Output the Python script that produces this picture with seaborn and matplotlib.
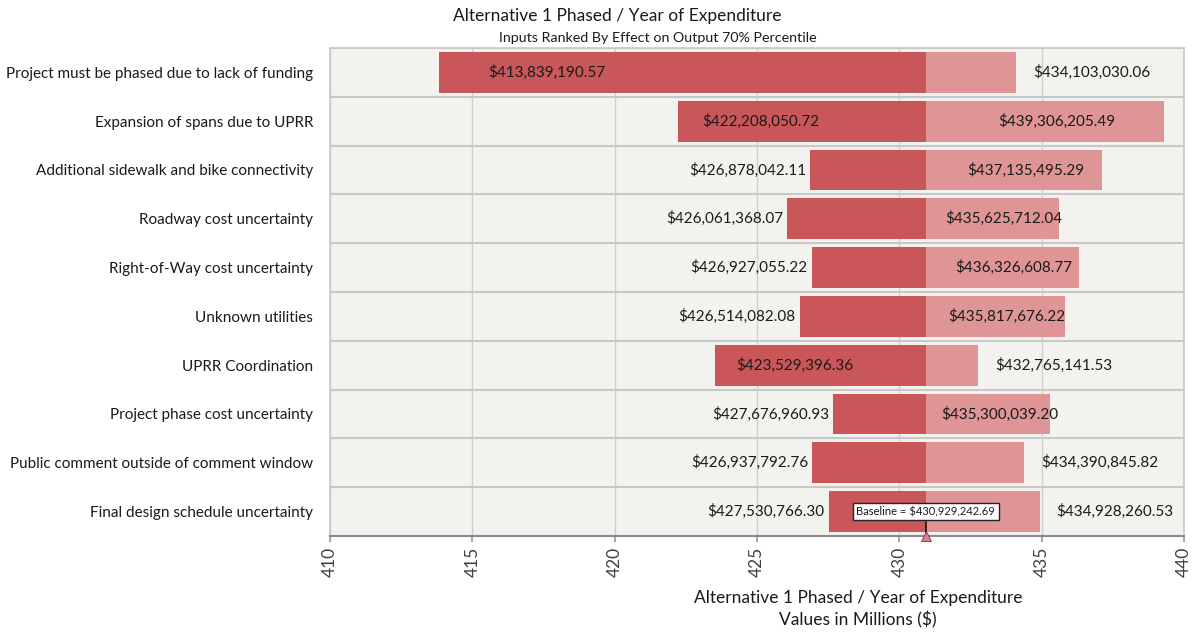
import numpy as np
import pandas as pd
import seaborn as sns
import matplotlib
matplotlib.use("Agg")
import matplotlib.pyplot as plt

categories = [
    "Project must be phased due to lack of funding",
    "Expansion of spans due to UPRR",
    "Additional sidewalk and bike connectivity",
    "Roadway cost uncertainty",
    "Right-of-Way cost uncertainty",
    "Unknown utilities",
    "UPRR Coordination",
    "Project phase cost uncertainty",
    "Public comment outside of comment window",
    "Final design schedule uncertainty",
]
low_values = [413839190.57, 422208050.72, 426878042.11, 426061368.07, 426927055.22,
              426514082.08, 423529396.36, 427676960.93, 426937792.76, 427530766.30]
high_values = [434103030.06, 439306205.49, 437135495.29, 435625712.04, 436326608.77,
               435817676.22, 432765141.53, 435300039.20, 434390845.82, 434928260.53]
baseline = 430929242.69
x_ticks = [410, 415, 420, 425, 430, 435, 440]

title = "Alternative 1 Phased / Year of Expenditure"
subtitle = "Inputs Ranked By Effect on Output 70% Percentile"
xlabel_lines = ["Alternative 1 Phased / Year of Expenditure", "Values in Millions ($)"]

sns.set_theme(style="white")
plt.rcParams["font.family"] = ["Lato", "DejaVu Sans"]

B = baseline / 1e6
low_m = np.array(low_values) / 1e6
high_m = np.array(high_values) / 1e6

df = pd.DataFrame({
    "cat": categories,
    "low": low_m - B,
    "high": high_m - B,
})

fig = plt.figure(figsize=(11.96, 6.34), dpi=100)
ax = fig.add_axes([330 / 1196, 1 - 536 / 634, (1184 - 330) / 1196, (536 - 48) / 634])
ax.set_facecolor("#f3f2ee")

LEFT_C = "#c95659"
RIGHT_C = "#df9496"
sns.barplot(data=df, x="low", y="cat", color=LEFT_C, saturation=1, width=0.84, ax=ax,
            zorder=2, linewidth=0, edgecolor="none")
sns.barplot(data=df, x="high", y="cat", color=RIGHT_C, saturation=1, width=0.84, ax=ax,
            zorder=2, linewidth=0, edgecolor="none")

ax.set_xlim(x_ticks[0] - B, x_ticks[-1] - B)
ax.set_ylim(len(categories) - 0.5, -0.5)
ax.set_xticks([t - B for t in x_ticks])
ax.set_xticklabels([str(t) for t in x_ticks], rotation=90, fontsize=12.5, color="#404040")
ax.tick_params(axis="x", length=4, color="#9a9a9a", pad=4, bottom=True)
ax.tick_params(axis="y", length=0, pad=12, labelsize=11, labelcolor="#1a1a1a")
ax.set_xlabel("")
ax.set_ylabel("")

# vertical grid
for t in x_ticks:
    ax.axvline(t - B, color="#cfcfcf", lw=1, zorder=1)
# row separators
for i in range(len(categories) + 1):
    ax.axhline(i - 0.5, color="#c8c8c8", lw=1.5, zorder=1)

for sp in ["top", "right", "left"]:
    ax.spines[sp].set_color("#c8c8c8")
    ax.spines[sp].set_linewidth(1.2)
ax.spines["bottom"].set_color("#8a8a8a")
ax.spines["bottom"].set_linewidth(1.5)

label_w = 4.3  # approx width of a value label in data units
fs = 11
for i, (lo, hi) in enumerate(zip(low_m, high_m)):
    dlo = lo - B
    dhi = hi - B
    # left labels
    if -dlo > label_w + 0.6:
        ax.text(dlo + min(2.0, 0.1 * (-dlo)), i, f"${low_values[i]:,.2f}", ha="left", va="center",
                fontsize=fs, color="#1a1a1a", zorder=4)
    else:
        ax.text(dlo - 0.15, i, f"${low_values[i]:,.2f}", ha="right", va="center",
                fontsize=fs, color="#1a1a1a", zorder=4)
    # right labels
    if dhi > label_w - 0.3 and i != len(categories) - 1:
        ax.text(dhi / 2 + 0.4, i, f"${high_values[i]:,.2f}", ha="center", va="center",
                fontsize=fs, color="#1a1a1a", zorder=4)
    else:
        ax.text(dhi + 0.6, i, f"${high_values[i]:,.2f}", ha="left", va="center",
                fontsize=fs, color="#1a1a1a", zorder=4)

# baseline marker
last = len(categories) - 1
ax.text(0, last, f"Baseline = ${baseline:,.2f}", ha="center", va="center", fontsize=8,
        color="#1a1a1a", zorder=6,
        bbox=dict(boxstyle="square,pad=0.3", fc="white", ec="#222222", lw=1))
ax.plot([0, 0], [last + 0.22, last + 0.5], color="#1a1a1a", lw=1.3, zorder=5)
ax.plot([0], [last + 0.5], marker="^", ms=7, color="#d9808a", mec="#8a3040", mew=0.6,
        clip_on=False, zorder=7)

fig.text(617 / 1196, 1 - 16 / 634, title, ha="center", va="center", fontsize=12.5, color="#1a1a1a")
fig.text(658 / 1196, 1 - 38 / 634, subtitle, ha="center", va="center", fontsize=10.3, color="#1a1a1a")
fig.text(858 / 1196, 1 - 598 / 634, xlabel_lines[0], ha="center", va="center", fontsize=12.5, color="#1a1a1a")
fig.text(858 / 1196, 1 - 620 / 634, xlabel_lines[1], ha="center", va="center", fontsize=12.5, color="#1a1a1a")

fig.savefig("out.png", dpi=100, facecolor="white")
